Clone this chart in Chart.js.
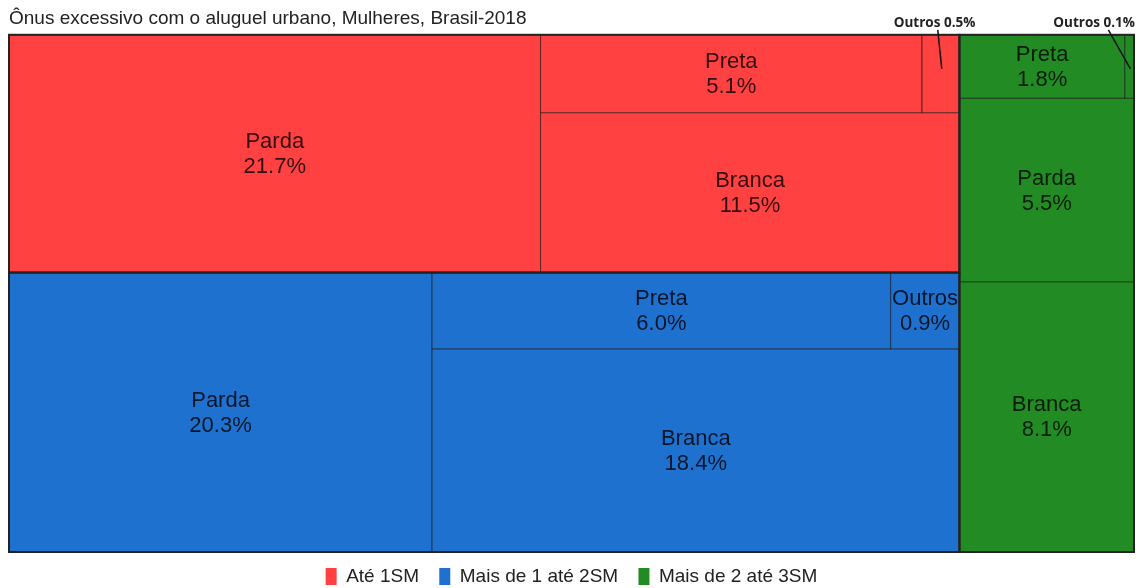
<!DOCTYPE html>
<html>
<head>
<meta charset="utf-8">
<script src="https://cdn.jsdelivr.net/npm/chart.js@4"></script>
<style>
  body { margin: 0; background: #fff; }
</style>
</head>
<body>
<canvas id="chartContainer" width="1138" height="588"></canvas>
<script>
const chartTitle = "Ônus excessivo com o aluguel urbano, Mulheres, Brasil-2018";

// faixas de renda (grupos) e raça/cor (células)
const faixas = ["Até 1SM", "Mais de 1 até 2SM", "Mais de 2 até 3SM"];
const racas = ["Parda", "Branca", "Preta", "Outros"];

// % de mulheres com ônus excessivo, por raça/cor, dentro de cada faixa
const ate1SM = [21.7, 11.5, 5.1, 0.5];
const de1a2SM = [20.3, 18.4, 6.0, 0.9];
const de2a3SM = [5.5, 8.1, 1.8, 0.1];

const colors = ["#ff4141", "#1f71cf", "#238b23"];

const series = [ate1SM, de1a2SM, de2a3SM];
const FONT = "'Liberation Sans', Arial, sans-serif";

// pivot-by-size: o maior item fica no canto, L2 empilhado com ele, L3 ao lado
function pivotLayout(items, rect, out) {
  if (items.length === 0) return;
  if (items.length === 1) {
    out.push({ item: items[0], rect: rect });
    return;
  }
  const total = items.reduce((s, it) => s + it.value, 0);
  const p = items[0];
  const rest = items.slice(1);
  const wide = rect.w >= rect.h;

  let best = null;
  let acc = p.value;
  for (let k = 0; k <= rest.length; k++) {
    if (k > 0) acc += rest[k - 1].value;
    let pw, ph;
    if (wide) {
      pw = rect.w * acc / total;
      ph = rect.h * p.value / acc;
    } else {
      ph = rect.h * acc / total;
      pw = rect.w * p.value / acc;
    }
    const ratio = Math.max(pw / ph, ph / pw);
    if (best === null || ratio < best.ratio) best = { k, acc, ratio };
  }

  const l2 = rest.slice(0, best.k);
  const l3 = rest.slice(best.k);
  if (wide) {
    const colW = rect.w * best.acc / total;
    const ph = rect.h * p.value / best.acc;
    out.push({ item: p, rect: { x: rect.x, y: rect.y, w: colW, h: ph } });
    pivotLayout(l2, { x: rect.x, y: rect.y + ph, w: colW, h: rect.h - ph }, out);
    pivotLayout(l3, { x: rect.x + colW, y: rect.y, w: rect.w - colW, h: rect.h }, out);
  } else {
    const rowH = rect.h * best.acc / total;
    const pw = rect.w * p.value / best.acc;
    out.push({ item: p, rect: { x: rect.x, y: rect.y, w: pw, h: rowH } });
    pivotLayout(l2, { x: rect.x + pw, y: rect.y, w: rect.w - pw, h: rowH }, out);
    pivotLayout(l3, { x: rect.x, y: rect.y + rowH, w: rect.w, h: rect.h - rowH }, out);
  }
}

function byValueDesc(a, b) { return b.value - a.value; }

const treemapPlugin = {
  id: "treemap",
  afterDatasetsDraw(chart) {
    const ctx = chart.ctx;
    const xs = chart.scales.x;
    const ys = chart.scales.y;

    const toPx = r => {
      const left = xs.getPixelForValue(r.x);
      const right = xs.getPixelForValue(r.x + r.w);
      const top = ys.getPixelForValue(r.y + r.h);
      const bottom = ys.getPixelForValue(r.y);
      return { left, top, w: right - left, h: bottom - top };
    };

    const groups = chart.data.datasets.map((ds, i) => ({
      index: i,
      value: ds.values.reduce((s, v) => s + v, 0)
    })).sort(byValueDesc);

    const groupRects = [];
    pivotLayout(groups, { x: 0, y: 0, w: 1, h: 1 }, groupRects);

    const cells = [];
    groupRects.forEach(g => {
      const ds = chart.data.datasets[g.item.index];
      const items = ds.values.map((v, j) => ({ value: v, name: racas[j], group: g.item.index }))
        .sort(byValueDesc);
      pivotLayout(items, g.rect, cells);
    });

    ctx.save();

    cells.forEach(c => {
      const r = toPx(c.rect);
      ctx.fillStyle = colors[c.item.group];
      ctx.fillRect(r.left, r.top, r.w, r.h);
      ctx.strokeStyle = "rgba(0,0,0,0.5)";
      ctx.lineWidth = 1;
      ctx.strokeRect(r.left, r.top, r.w, r.h);
    });

    groupRects.forEach(g => {
      const r = toPx(g.rect);
      ctx.strokeStyle = "#222";
      ctx.lineWidth = 2;
      ctx.strokeRect(r.left, r.top, r.w, r.h);
    });

    // rótulos: dentro da célula quando cabem, senão chamada com linha guia
    const callouts = [];
    ctx.font = "22px " + FONT;
    ctx.textAlign = "center";
    ctx.textBaseline = "middle";
    cells.forEach(c => {
      const r = toPx(c.rect);
      const pct = c.item.value.toFixed(1) + "%";
      const tw = Math.max(ctx.measureText(c.item.name).width, ctx.measureText(pct).width);
      if (tw <= r.w + 2 && r.h >= 50) {
        const cx = r.left + r.w / 2;
        const cy = r.top + r.h / 2 + 1;
        ctx.fillStyle = "rgba(0,0,0,0.8)";
        ctx.fillText(c.item.name, cx, cy - 12.5);
        ctx.fillText(pct, cx, cy + 12.5);
      } else {
        callouts.push({ r, text: c.item.name + " " + pct });
      }
    });

    ctx.font = "bold 13.5px 'Open Sans', " + FONT;
    ctx.textAlign = "left";
    callouts.forEach(co => {
      const cx = co.r.left + co.r.w / 2;
      const tw = ctx.measureText(co.text).width;
      const textLeft = Math.min(cx - 47, chart.width - tw - 3);
      const ty = chart.chartArea.top - 12;
      ctx.fillStyle = "#222";
      ctx.fillText(co.text, textLeft, ty);
      const sx = Math.max(textLeft + 44, Math.min(cx - 3, textLeft + 55));
      ctx.beginPath();
      ctx.moveTo(sx, ty + 7);
      ctx.lineTo(cx + 1, co.r.top + 34);
      ctx.strokeStyle = "#111";
      ctx.lineWidth = 1.5;
      ctx.stroke();
    });

    ctx.restore();
  }
};

// legenda padrão, com um respiro maior entre os itens
const defaultLabels = Chart.defaults.plugins.legend.labels.generateLabels;
function legendLabels(chart) {
  const items = defaultLabels(chart);
  items.forEach((it, i) => {
    if (i < items.length - 1) it.text = it.text + " ";
  });
  return items;
}

const chart = new Chart(document.getElementById("chartContainer"), {
  type: "scatter",
  data: {
    datasets: faixas.map((f, i) => ({
      label: f,
      data: [],
      values: series[i],
      backgroundColor: colors[i],
      borderColor: colors[i],
      borderWidth: 0
    }))
  },
  options: {
    responsive: false,
    animation: false,
    layout: { padding: { left: 9, right: 4, top: 0, bottom: -8 } },
    scales: {
      x: { type: "linear", min: 0, max: 1, display: false },
      y: { type: "linear", min: 0, max: 1, display: false }
    },
    plugins: {
      title: {
        display: true,
        text: chartTitle,
        align: "start",
        color: "#222",
        font: { family: FONT, size: 19, weight: "normal" },
        padding: { top: 7, bottom: 5 }
      },
      legend: {
        position: "bottom",
        labels: {
          boxWidth: 11,
          boxHeight: 17,
          padding: 15,
          color: "#222",
          font: { family: FONT, size: 19 },
          generateLabels: legendLabels
        }
      },
      tooltip: { enabled: false }
    }
  },
  plugins: [treemapPlugin]
});
</script>
</body>
</html>
